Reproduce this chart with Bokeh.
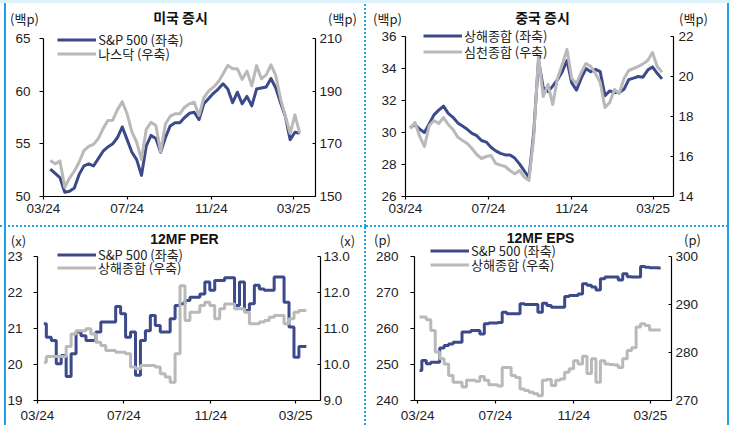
import pandas as pd
from bokeh.plotting import figure
from bokeh.models import (Range1d, LinearAxis, FixedTicker, DatetimeTickFormatter,
                          NumeralTickFormatter, Label, Legend, LegendItem, GridBox)
from bokeh.layouts import row, column
from bokeh.embed import file_html
from bokeh.resources import INLINE

BLUE = "#3C4A8C"
GRAY = "#B9B9B9"
SEP = "#1FA3E6"
FONT_NUM = "Liberation Sans"
FONT_KR = "Noto Sans CJK KR"

# ---------------- data ----------------
x_tick_dates = ["2024-03-01", "2024-07-01", "2024-11-01", "2025-03-01"]

# US equities (hundreds of points), weekly
us_dates = pd.date_range("2024-03-11", periods=53, freq="7D")
sp500 = [52.6, 52.2, 51.8, 50.4, 50.5, 50.8, 52.1, 52.9, 53.1, 52.9,
         53.6, 54.3, 54.7, 55.0, 55.6, 56.6, 55.4, 54.2, 53.5, 52.0,
         54.8, 55.8, 55.5, 54.2, 55.6, 56.7, 57.0, 57.0, 57.5, 57.9,
         58.0, 57.3, 58.8, 59.3, 59.8, 60.2, 60.7, 60.2, 58.9, 59.9,
         58.8, 59.5, 58.6, 60.2, 60.3, 60.4, 61.2, 60.3, 58.9, 57.6,
         55.4, 56.1, 56.0]
nasdaq = [163.7, 162.4, 163.5, 153.5, 157.0, 159.6, 163.0, 167.4, 169.0, 169.8,
          172.0, 175.8, 178.9, 179.0, 183.0, 186.0, 181.4, 174.5, 170.6, 164.0,
          175.5, 178.2, 177.0, 167.0, 177.5, 180.5, 181.4, 181.4, 183.9, 185.2,
          185.8, 180.8, 187.5, 190.0, 191.5, 193.5, 196.5, 199.8, 198.5, 198.5,
          194.5, 197.6, 192.0, 199.7, 194.7, 196.2, 200.0, 196.0, 187.1, 180.5,
          174.0, 181.0, 174.0]

# China equities (hundreds of points), weekly
cn_dates = pd.date_range("2024-03-08", periods=54, freq="7D")
shanghai = [30.3, 30.5, 30.2, 30.0, 30.55, 31.1, 31.4, 31.65, 31.2, 30.95,
            30.6, 30.4, 30.2, 29.95, 29.8, 29.5, 29.4, 29.08, 28.85, 28.7,
            28.6, 28.6, 28.4, 28.04, 27.6, 27.2, 30.0, 34.5, 32.8, 32.55,
            32.9, 33.3, 33.8, 34.5, 33.1, 32.65, 33.4, 34.0, 33.8, 33.95,
            33.8, 32.3, 32.6, 32.5, 32.5, 32.7, 33.3, 33.4, 33.5, 33.46,
            33.9, 34.1, 33.7, 33.35]
shenzhen = [17.4, 17.7, 17.0, 16.5, 17.55, 17.8, 17.65, 17.95, 17.6, 17.35,
            16.97, 16.8, 16.65, 16.4, 16.1, 15.9, 16.0, 16.05, 15.65, 15.57,
            15.5, 15.3, 15.13, 15.3, 14.97, 14.8, 17.0, 21.0, 19.0, 19.6,
            18.6, 19.9, 20.6, 21.35, 19.9, 19.65, 20.2, 20.65, 20.5, 20.15,
            19.7, 18.45, 18.7, 19.35, 19.15, 19.9, 20.3, 20.4, 20.5, 20.63,
            20.8, 21.2, 20.5, 20.22]

# 12MF PER (x), weekly
per_dates = pd.date_range("2024-03-10", periods=54, freq="7D")
per_sp500 = [21.13, 20.76, 20.67, 20.02, 20.25, 19.67, 20.3, 20.9, 20.8, 20.67,
             20.67, 20.9, 21.18, 21.18, 21.18, 21.61, 21.41, 20.76, 20.9, 19.7,
             20.67, 20.94, 21.36, 21.08, 20.9, 20.9, 21.27, 21.64, 21.69, 21.78,
             21.87, 21.87, 21.96, 22.29, 22.06, 22.33, 22.33, 22.41, 22.41, 21.64,
             22.29, 21.5, 21.69, 22.2, 22.1, 22.06, 22.06, 22.43, 22.43, 21.73,
             21.04, 20.2, 20.5, 20.5]
per_shanghai = [10.06, 10.22, 10.22, 10.22, 10.22, 10.5, 10.85, 10.94, 10.94, 10.99,
                10.85, 10.62, 10.53, 10.39, 10.39, 10.34, 10.34, 10.3, 9.93, 9.88,
                9.97, 9.97, 9.97, 9.93, 9.74, 9.65, 9.51, 10.3, 12.19, 11.22,
                11.45, 11.45, 11.64, 11.73, 11.64, 11.27, 11.55, 11.68, 11.68, 11.55,
                11.55, 11.45, 11.13, 11.13, 11.18, 11.22, 11.31, 11.36, 11.36, 11.13,
                11.27, 11.45, 11.5, 11.5]

# 12MF EPS (p), weekly
eps_dates = pd.date_range("2024-03-04", periods=55, freq="7D")
eps_sp500 = [248.3, 251.1, 250.2, 250.6, 250.6, 254.6, 255.3, 255.7, 256.2, 256.2,
             259.0, 259.0, 259.45, 259.45, 258.5, 261.3, 261.5, 261.5, 261.7, 264.5,
             264.1, 264.1, 264.1, 266.9, 266.7, 266.7, 266.7, 264.5, 267.0, 266.4,
             265.9, 265.9, 265.9, 268.9, 269.2, 269.2, 269.6, 272.4, 272.0, 271.5,
             270.7, 273.8, 274.3, 274.3, 274.3, 273.5, 275.2, 274.4, 274.3, 274.3,
             277.2, 277.0, 276.9, 276.85, 276.8]
eps_shanghai = [287.4, 287.4, 286.8, 284.6, 280.1, 278.7, 277.6, 275.2, 273.8, 273.8,
                272.8, 274.2, 274.2, 274.0, 275.0, 274.2, 273.3, 273.3, 273.0, 276.9,
                276.9, 275.2, 274.8, 272.4, 272.1, 271.7, 271.4, 271.0, 274.2, 274.4,
                273.1, 274.2, 274.5, 275.9, 276.6, 278.3, 277.6, 279.2, 275.6, 278.7,
                273.8, 278.3, 277.6, 277.5, 277.4, 276.9, 278.7, 280.4, 281.0, 285.3,
                286.0, 285.6, 284.7, 284.7, 284.7]

# ---------------- layout constants ----------------
W_L, W_R = 366, 364
H_T, H_B = 227, 198
TOTAL_W, TOTAL_H = W_L + W_R, H_T + H_B
ROW_H = 19

X_TICKS = [pd.Timestamp(d).value // 10**6 for d in x_tick_dates]


def style_axis(ax, tin, tout, standoff, size="13.5px"):
    ax.axis_line_color = "black"
    ax.axis_line_width = 1.2
    ax.major_tick_line_color = "black"
    ax.major_tick_line_width = 1.2
    ax.major_tick_in = tin
    ax.major_tick_out = tout
    ax.minor_tick_line_color = None
    ax.major_label_text_font = FONT_NUM
    ax.major_label_text_font_size = size
    ax.major_label_text_color = "#222222"
    ax.major_label_standoff = standoff
    ax.axis_label = None


def clean(fig):
    fig.outline_line_color = None
    fig.xgrid.visible = False
    fig.ygrid.visible = False
    fig.background_fill_alpha = 0
    fig.border_fill_alpha = 0


def make_chart(cfg, dates, s1, s2, n1, n2, step, styles):
    W, H = cfg["W"], cfg["H"]
    bl, br = cfg["bl"], cfg["br"]
    t_px, b_px = cfg["t_px"], cfg["b_px"]
    yl, yr = cfg["yl"], cfg["yr"]
    kl = (yl[1] - yl[0]) / (b_px - t_px)
    kr = (yr[1] - yr[0]) / (b_px - t_px)
    p = figure(width=W, height=H, title=None, x_axis_type="datetime",
               x_range=Range1d(pd.Timestamp(cfg["xr"][0]), pd.Timestamp(cfg["xr"][1])),
               y_range=Range1d(yl[0], yl[1] + t_px * kl),
               output_backend="svg", toolbar_location=None,
               min_border_left=bl, min_border_right=br, min_border_top=0,
               min_border_bottom=H - b_px)
    clean(p)
    p.extra_y_ranges = {"r": Range1d(yr[0], yr[1] + t_px * kr)}
    rax = LinearAxis(y_range_name="r")
    p.add_layout(rax, "right")

    p.xaxis.ticker = FixedTicker(ticks=X_TICKS)
    p.xaxis.formatter = DatetimeTickFormatter(days="%m/%y", months="%m/%y", years="%m/%y",
                                              hours="%m/%y", minutes="%m/%y")
    lax = p.yaxis[0]
    lax.ticker = FixedTicker(ticks=cfg["lticks"])
    lax.bounds = yl
    rax.ticker = FixedTicker(ticks=cfg["rticks"])
    rax.bounds = yr
    if cfg.get("rfmt"):
        rax.formatter = NumeralTickFormatter(format=cfg["rfmt"])
    style_axis(p.xaxis[0], 0, 3, cfg["xstand"], "13.5px")
    style_axis(lax, 0, 4, cfg["lstand"])
    style_axis(rax, 3, 0, cfg["rstand"])

    if step:
        r1 = p.step(dates, s1, mode="center", line_color=BLUE, line_width=3)
        r2 = p.step(dates, s2, mode="center", line_color=GRAY, line_width=3, y_range_name="r")
    else:
        r1 = p.line(dates, s1, line_color=BLUE, line_width=3, line_join="round")
        r2 = p.line(dates, s2, line_color=GRAY, line_width=3, line_join="round", y_range_name="r")

    for r, name, cy in ((r1, n1, cfg["leg1"]), (r2, n2, cfg["leg2"])):
        lg = Legend(items=[LegendItem(label=name, renderers=[r])],
                    location=(cfg["leg_x"], b_px - cy - ROW_H / 2),
                    glyph_width=39, glyph_height=ROW_H, label_height=ROW_H, label_standoff=2,
                    padding=0, margin=0, spacing=0, border_line_color=None,
                    background_fill_alpha=0, label_text_font=FONT_KR,
                    label_text_font_size="13px", label_text_color="#222222")
        p.add_layout(lg)
    p.styles = styles
    return p


def vdot(pos):
    return f"repeating-linear-gradient(to bottom, {SEP} 0 2px, transparent 2px 4px) {pos} top / 2px 100% no-repeat"


def hdot():
    return f"repeating-linear-gradient(to right, {SEP} 0 2px, transparent 2px 4px) left bottom / 100% 2px no-repeat"


def solid(pos):
    return f"linear-gradient({SEP}, {SEP}) {pos} top / 2px 100% no-repeat"


TOPBAND = "linear-gradient(#DDF2FB, #DDF2FB) left top / 100% 3px no-repeat"

cfg1 = dict(W=W_L, H=H_T, bl=43, br=51, t_px=38, b_px=196,
            xr=("2024-03-01", "2025-04-02"), yl=(50, 65), yr=(150, 210),
            lticks=[50, 55, 60, 65], rticks=[150, 170, 190, 210],
            lstand=9, rstand=4, xstand=1, leg_x=14.3, leg1=39.3, leg2=53.3)
cfg2 = dict(W=W_R, H=H_T, bl=39, br=57, t_px=36, b_px=196,
            xr=("2024-03-01", "2025-03-31"), yl=(26, 36), yr=(14, 22),
            lticks=[26, 28, 30, 32, 34, 36], rticks=[14, 16, 18, 20, 22],
            lstand=5, rstand=5, xstand=1, leg_x=18, leg1=35.5, leg2=51.7)
cfg3 = dict(W=W_L, H=H_B, bl=37, br=46, t_px=29, b_px=173,
            xr=("2024-03-01", "2025-04-05"), yl=(19, 23), yr=(9, 13),
            lticks=[19, 20, 21, 22, 23], rticks=[9, 10, 11, 12, 13], rfmt="0.0",
            lstand=11, rstand=3, xstand=4, leg_x=20, leg1=27, leg2=40.3)
cfg4 = dict(W=W_R, H=H_B, bl=48, br=59, t_px=29, b_px=173,
            xr=("2024-02-25", "2025-04-03"), yl=(240, 280), yr=(270, 300),
            lticks=[240, 250, 260, 270, 280], rticks=[270, 280, 290, 300],
            lstand=12, rstand=4, xstand=4, leg_x=16, leg1=23.5, leg2=37.7)

p1 = make_chart(cfg1, us_dates, sp500, nasdaq, "S&P 500 (좌축)", "나스닥 (우축)", False,
                {"background": ", ".join([TOPBAND, solid("4px"), vdot("right"), hdot()]) + ", white"})
p2 = make_chart(cfg2, cn_dates, shanghai, shenzhen, "상해종합 (좌축)", "심천종합 (우축)", False,
                {"background": ", ".join([TOPBAND, solid("361px"), hdot()]) + ", white"})
p3 = make_chart(cfg3, per_dates, per_sp500, per_shanghai, "S&P 500 (좌축)", "상해종합 (우축)", True,
                {"background": ", ".join([solid("4px"), vdot("right")]) + ", white"})
p4 = make_chart(cfg4, eps_dates, eps_sp500, eps_shanghai, "S&P 500 (좌축)", "상해종합 (우축)", True,
                {"background": solid("361px") + ", white"})

charts = column(row(p1, p2, spacing=0), row(p3, p4, spacing=0), spacing=0)

# ---------------- overlay with panel titles and unit labels ----------------
titles = [("미국 증시", 180, 16, FONT_KR), ("중국 증시", 542, 16, FONT_KR),
          ("12MF PER", 184, 238, FONT_NUM), ("12MF EPS", 540, 237, FONT_NUM)]
units = [("(백p)", 24, 18), ("(백p)", 342, 18), ("(백p)", 387, 18), ("(백p)", 693, 18),
         ("(x)", 18, 240), ("(x)", 347, 240), ("(p)", 382, 239), ("(p)", 692, 239)]

ov = figure(width=TOTAL_W, height=TOTAL_H, title=None, x_range=Range1d(0, TOTAL_W),
            y_range=Range1d(0, TOTAL_H), x_axis_location=None, y_axis_location=None,
            toolbar_location=None, output_backend="svg", min_border=0)
clean(ov)
for text, x, y, font in titles:
    ov.add_layout(Label(x=x, y=TOTAL_H - y, text=text, text_align="center",
                        text_baseline="middle", text_font=font, text_font_style="bold",
                        text_font_size="14px", text_color="#111111"))
for text, x, y in units:
    ov.add_layout(Label(x=x, y=TOTAL_H - y, text=text, text_align="center",
                        text_baseline="middle", text_font=FONT_KR,
                        text_font_size="13px", text_color="#222222"))

layout = GridBox(children=[(charts, 0, 0), (ov, 0, 0)], spacing=0)

open("out.html", "w").write(file_html(layout, INLINE))
